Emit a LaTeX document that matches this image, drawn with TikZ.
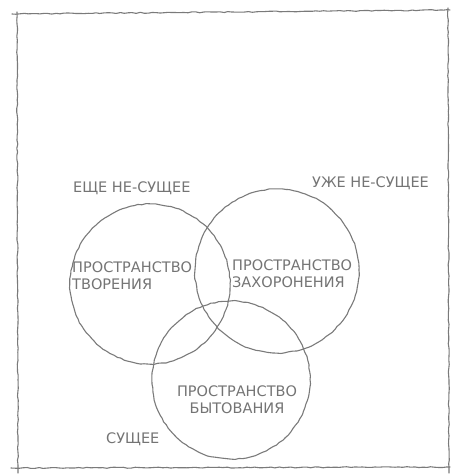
\documentclass[tikz,border=0pt]{standalone}
\usepackage{fontspec}
\setmainfont{DejaVu Sans}
\usetikzlibrary{decorations.pathmorphing}
\definecolor{ink}{HTML}{7A7A7A}
\definecolor{txt}{HTML}{747474}
\begin{document}
\begin{tikzpicture}[x=1pt,y=-1pt,
  sketch/.style={draw=ink,line width=1.1pt,line join=round,line cap=round,decorate,
    decoration={random steps,segment length=4pt,amplitude=0.5pt}},
  ring/.style={sketch,circle,inner sep=0pt},
  lbl/.style={text=txt,inner sep=0pt,font=\fontsize{14.5}{17}\selectfont,align=left}]
\pgfmathsetseed{7}
\useasboundingbox (0,0) rectangle (450,476);
% frame
\coordinate (f1) at (17,12);
\coordinate (f2) at (18,473);
\coordinate (f3) at (12,14);
\coordinate (f4) at (450,10);
\coordinate (f5) at (448,8);
\coordinate (f6) at (449,473);
\coordinate (f7) at (11,468);
\coordinate (f8) at (450,467);
\draw[sketch] (f1) -- (f2);
\draw[sketch] (f3) -- (f4);
\draw[sketch] (f5) -- (f6);
\draw[sketch] (f7) -- (f8);
% circles
\node[ring,minimum size=160pt] (c1) at (150,284) {};
\node[ring,minimum size=164pt] (c2) at (277,271) {};
\node[ring,minimum size=158pt] (c3) at (231,380) {};
% labels
\node[lbl,anchor=west] (l1) at (73,188) {ЕЩЕ НЕ-СУЩЕЕ};
\node[lbl,anchor=west] (l2) at (312,183) {УЖЕ НЕ-СУЩЕЕ};
\node[lbl,anchor=north west] (t1) at (72,262) {ПРОСТРАНСТВО\\ТВОРЕНИЯ};
\node[lbl,anchor=north west] (t2) at (232,260) {ПРОСТРАНСТВО\\ЗАХОРОНЕНИЯ};
\node[lbl,anchor=north,align=center] (t3) at (237,386) {ПРОСТРАНСТВО\\БЫТОВАНИЯ};
\node[lbl,anchor=west] (l3) at (106,439) {СУЩЕЕ};
\end{tikzpicture}
\end{document}
